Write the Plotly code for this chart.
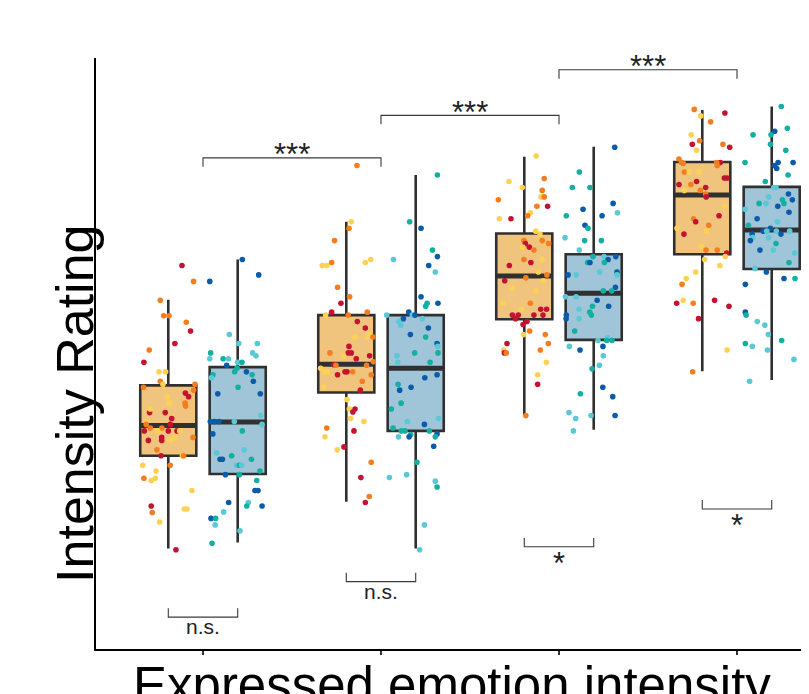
import plotly.graph_objects as go

# ---------------- data (rating scale 0-100) ----------------
groups = [1, 2, 3, 4]

# box statistics: speaker-type A (orange) and B (blue)
orange_lower = [17.0, 24.9, 39.6, 47.0]
orange_q1 = [32.7, 43.4, 55.8, 66.8]
orange_med = [37.8, 48.2, 63.1, 76.8]
orange_q3 = [44.6, 56.5, 70.3, 82.4]
orange_upper = [59.1, 72.3, 83.3, 91.2]

blue_lower = [18.0, 17.0, 37.1, 45.5]
blue_q1 = [29.6, 36.9, 52.3, 64.3]
blue_med = [38.4, 47.5, 60.2, 70.9]
blue_q3 = [47.7, 56.5, 66.8, 78.2]
blue_upper = [65.9, 80.2, 85.0, 91.8]

# individual ratings (y), horizontal jitter (in category units) and subgroup code
o1_y = [64.9, 62.2, 59.0, 56.4, 56.4, 55.3, 53.8, 51.7, 50.6, 48.5,
        46.9, 46.9, 45.3, 44.8, 44.3, 44.8, 43.8, 43.3, 42.7, 42.7,
        41.6, 41.6, 41.1, 40.0, 40.0, 40.6, 39.0, 38.5, 38.0, 38.0,
        37.4, 37.4, 36.9, 36.9, 36.9, 36.9, 36.9, 35.8, 35.3, 35.3,
        35.3, 35.8, 35.8, 33.7, 32.7, 32.7, 32.7, 31.1, 31.1, 30.1,
        28.9, 28.9, 28.5, 26.8, 24.2, 23.1, 23.7, 23.7, 21.5, 16.8]
o1_j = [0.077, 0.142, -0.045, -0.026, 0.004, 0.101, 0.125, 0.037, -0.107, -0.137,
        -0.052, -0.015, -0.045, -0.030, -0.139, 0.150, 0.142, 0.096, 0.114, -0.004,
        0.007, 0.094, 0.097, -0.105, -0.017, -0.101, 0.019, -0.124, -0.124, 0.011,
        -0.036, -0.101, -0.135, -0.060, 0.000, 0.049, 0.064, -0.037, -0.037, -0.112,
        0.011, 0.037, 0.139, -0.064, -0.041, 0.079, 0.086, -0.144, 0.011, -0.069,
        -0.137, -0.073, -0.096, 0.133, -0.096, -0.090, 0.090, 0.105, -0.049, 0.043]
o1_c = "ROOOOORROR" "YYOYOOORRY" "YOORRYRYOR" "OORYRRYRRR" "YYOORYOYOY" "OYYYROYYYR"

b1_y = [65.9, 63.3, 62.2, 53.2, 51.7, 51.7, 50.1, 50.1, 49.6, 49.1,
        49.1, 49.1, 48.5, 48.5, 48.0, 47.5, 46.9, 46.9, 46.4, 46.4,
        45.9, 45.3, 44.3, 43.2, 43.2, 39.5, 38.5, 38.5, 38.5, 38.5,
        38.0, 36.4, 36.9, 33.2, 33.7, 32.7, 32.1, 32.1, 32.1, 31.1,
        31.1, 31.1, 30.1, 29.5, 29.5, 28.5, 26.8, 26.8, 24.8, 24.8,
        24.2, 24.2, 23.2, 22.1, 22.1, 21.0, 20.0, 17.9]
b1_j = [0.026, 0.118, -0.157, -0.047, 0.006, 0.110, -0.152, 0.084, 0.103, -0.157,
        -0.082, -0.052, 0.000, 0.024, -0.062, -0.004, -0.017, 0.049, 0.081, -0.139,
        -0.148, 0.088, 0.002, -0.112, 0.127, 0.129, -0.154, -0.131, -0.105, -0.019,
        0.137, -0.140, 0.026, -0.118, 0.036, -0.034, -0.099, -0.086, 0.077, -0.007,
        0.009, 0.022, 0.125, -0.069, 0.009, 0.107, 0.097, 0.114, -0.051, 0.060,
        0.051, 0.137, -0.079, -0.150, -0.124, -0.127, 0.013, -0.144]
b1_c = "BBBCCCTCCC" "TCCTBTTBTT" "CBTBBCBBBC" "CBTCCTBBTC" "TCTBTTBBBC" "TBCBTCCT"

o2_y = [81.8, 72.3, 71.2, 69.1, 64.9, 64.9, 65.4, 65.4, 65.9, 61.2,
        59.6, 58.5, 57.0, 56.5, 56.5, 57.0, 55.4, 54.3, 53.2, 52.8,
        52.8, 52.8, 51.2, 50.1, 50.1, 50.1, 49.6, 49.1, 49.6, 48.6,
        48.1, 48.0, 47.5, 46.9, 46.9, 46.9, 46.9, 46.9, 48.0, 46.4,
        46.4, 45.3, 44.3, 43.8, 42.2, 40.6, 40.6, 40.1, 39.0, 38.5,
        36.9, 37.4, 35.9, 34.2, 33.7, 31.6, 29.0, 25.8, 24.8]
o2_j = [0.060, 0.028, 0.015, -0.066, -0.135, -0.109, -0.082, 0.107, 0.137, -0.049,
        0.019, -0.030, -0.082, -0.116, 0.011, 0.118, 0.062, 0.107, 0.131, 0.118,
        0.049, 0.150, 0.015, 0.011, 0.028, -0.092, -0.015, 0.056, 0.131, 0.152,
        -0.069, -0.058, -0.144, -0.120, -0.107, -0.007, 0.004, 0.036, 0.114, -0.049,
        0.140, 0.090, -0.127, 0.079, 0.004, 0.049, 0.017, 0.037, 0.024, 0.099,
        0.043, -0.110, -0.120, -0.013, -0.051, 0.140, 0.082, 0.129, 0.107]
o2_c = "OYOOYYOYYO" "ORRYOORRYY" "YORRROYRRO" "ROYYYRROOR" "OOYRYRYRYY" "ROYRYOROR"

b2_y = [80.2, 72.3, 71.2, 67.5, 66.4, 65.9, 64.9, 63.8, 59.6, 58.5,
        58.0, 58.5, 57.0, 56.5, 56.5, 56.5, 55.9, 55.9, 55.4, 54.8,
        54.3, 53.2, 52.8, 51.7, 51.2, 49.6, 50.1, 50.1, 48.5, 48.5,
        45.9, 46.4, 44.8, 44.3, 43.8, 41.6, 40.6, 38.5, 38.0, 39.0,
        37.4, 36.9, 36.9, 36.3, 36.9, 36.4, 35.9, 35.9, 35.9, 34.3,
        31.6, 29.0, 29.5, 28.4, 27.4, 21.0, 16.8]
b2_j = [0.122, -0.034, 0.030, 0.094, 0.122, -0.125, 0.073, 0.110, 0.030, 0.064,
        0.056, 0.125, -0.039, -0.019, -0.004, -0.163, -0.069, 0.037, -0.096, -0.084,
        0.071, -0.030, 0.056, 0.120, 0.124, -0.105, -0.006, 0.125, -0.101, 0.081,
        0.051, 0.120, -0.099, -0.026, -0.090, -0.082, -0.137, -0.047, 0.049, 0.129,
        -0.127, -0.081, -0.060, -0.028, 0.077, 0.120, -0.097, -0.037, 0.110, 0.101,
        0.007, -0.148, -0.051, 0.110, 0.120, 0.049, 0.022]
b2_c = "TTBTBCBCBT" "TBBCBCBCCC" "BBTBCCTTCT" "BBTBBTTCBC" "TTTTTBCBTB" "TCCCTCC"

o3_y = [83.4, 79.1, 79.6, 78.1, 76.0, 77.6, 76.5, 76.5, 74.9, 74.9,
        73.8, 73.3, 72.8, 72.8, 70.7, 70.2, 69.1, 69.1, 68.6, 68.6,
        68.0, 68.0, 67.5, 65.9, 65.4, 65.9, 64.9, 63.8, 63.3, 62.8,
        62.3, 62.3, 61.1, 60.6, 58.5, 58.5, 57.5, 57.5, 57.5, 56.5,
        56.5, 55.9, 56.5, 56.5, 55.4, 54.9, 53.8, 53.2, 53.2, 51.7,
        51.7, 50.6, 50.1, 50.1, 50.6, 48.5, 46.4, 44.8, 39.5]
o3_j = [0.067, -0.086, 0.112, -0.011, -0.146, 0.101, 0.094, 0.112, 0.071, 0.131,
        0.034, 0.019, -0.140, -0.075, 0.064, 0.088, -0.002, 0.101, 0.137, 0.006,
        0.028, -0.009, 0.054, -0.002, 0.037, 0.101, -0.084, 0.079, 0.127, 0.009,
        -0.110, 0.107, -0.067, 0.066, -0.120, 0.034, -0.015, 0.092, 0.125, -0.067,
        -0.034, -0.049, 0.054, 0.105, 0.015, -0.007, 0.030, -0.004, 0.118, 0.135,
        -0.097, -0.116, -0.112, -0.101, 0.090, 0.124, 0.075, 0.075, 0.009]
o3_c = "YYOYOOYOOR" "YOYRYYOOOR" "RYOORYRYOO" "RYYYYOYRRR" "RRRRRROYOO" "RYROOYYRO"

b3_y = [84.9, 80.7, 78.1, 78.1, 75.4, 73.8, 74.4, 73.3, 73.3, 71.7,
        71.2, 69.6, 69.1, 69.1, 67.5, 66.4, 66.4, 66.4, 65.9, 65.4,
        65.4, 65.4, 63.3, 63.3, 63.8, 63.8, 63.3, 61.2, 60.6, 60.6,
        59.6, 59.6, 59.0, 58.0, 58.0, 57.5, 57.0, 56.5, 56.5, 55.9,
        55.9, 53.8, 52.2, 52.7, 52.2, 52.2, 51.2, 50.6, 51.2, 49.6,
        48.0, 47.4, 44.3, 42.7, 43.2, 40.0, 39.0, 39.5, 39.5, 36.9]
b3_j = [0.118, -0.081, -0.120, -0.021, 0.109, 0.133, -0.060, -0.154, 0.047, -0.049,
        -0.032, -0.161, -0.051, 0.043, -0.081, -0.004, 0.058, 0.124, 0.081, -0.034,
        -0.021, 0.060, -0.144, -0.099, 0.034, 0.131, 0.131, 0.122, 0.054, 0.101,
        -0.159, -0.099, 0.019, -0.007, 0.084, -0.082, -0.022, -0.013, -0.154, -0.155,
        -0.082, -0.107, 0.024, 0.077, 0.073, 0.103, -0.137, -0.077, 0.052, 0.054,
        0.032, -0.009, 0.051, 0.107, -0.075, -0.139, -0.101, -0.015, 0.120, -0.114]
b3_c = "BTTTBCBTBB" "TCTTCTCBBT" "BTBCCBCBTT" "CCBTBCTTBB" "CTCCTTCBBC" "CTBBTCCCBC"

o4_y = [91.3, 90.7, 90.2, 89.2, 87.0, 86.0, 85.4, 85.4, 84.9, 84.4,
        82.9, 82.3, 82.2, 82.3, 82.3, 81.8, 80.7, 80.7, 80.7, 79.7,
        79.7, 79.1, 78.6, 78.6, 78.1, 77.6, 77.6, 77.0, 76.5, 74.9,
        73.3, 72.8, 72.3, 71.7, 71.2, 70.7, 70.2, 68.1, 67.5, 67.5,
        67.0, 66.4, 65.9, 64.9, 63.8, 62.7, 61.7, 59.0, 58.5, 58.5,
        59.0, 58.0, 55.9, 50.6, 46.9]
o4_j = [-0.045, 0.127, -0.009, 0.047, -0.062, -0.015, -0.056, 0.116, 0.154, -0.032,
        -0.131, -0.116, -0.107, 0.101, 0.081, 0.084, -0.101, -0.073, -0.017, 0.124,
        0.139, -0.032, -0.131, -0.064, 0.019, -0.011, -0.101, 0.019, 0.022, 0.125,
        0.094, -0.049, -0.037, 0.036, -0.142, 0.024, -0.103, -0.006, 0.021, 0.084,
        0.137, 0.129, 0.013, 0.099, -0.037, -0.090, -0.114, -0.107, -0.144, -0.051,
        0.069, 0.150, -0.021, 0.139, -0.054]
o4_c = "ORYOYORORY" "OOOROOOYYR" "RRROROYORY" "ROROYYRYOO" "RYYYYYOYRO" "RRRYO"

b4_y = [91.8, 88.1, 87.6, 87.0, 87.0, 85.4, 84.4, 82.3, 82.3, 82.3,
        81.8, 81.3, 80.2, 79.1, 78.1, 78.1, 77.0, 76.5, 76.0, 76.0,
        75.4, 75.4, 75.4, 74.9, 74.4, 73.9, 72.8, 72.3, 71.7, 70.7,
        71.2, 70.7, 70.7, 70.7, 70.2, 70.2, 69.6, 69.1, 69.6, 68.6,
        67.5, 67.5, 67.0, 65.4, 64.4, 63.8, 62.7, 62.7, 61.7, 57.0,
        56.5, 55.4, 54.8, 53.2, 52.2, 51.7, 51.2, 50.6, 49.0, 45.3]
b4_j = [0.054, 0.088, 0.017, -0.105, -0.004, -0.007, 0.079, -0.150, 0.036, 0.120,
        0.017, 0.028, 0.092, -0.036, 0.011, 0.024, 0.094, -0.017, 0.116, 0.060,
        0.069, -0.071, -0.032, 0.034, -0.150, 0.097, -0.082, 0.032, -0.131, -0.047,
        -0.007, -0.028, 0.026, 0.101, 0.052, -0.110, -0.107, -0.120, -0.017, 0.024,
        -0.066, 0.009, 0.129, 0.097, -0.094, -0.030, 0.069, 0.131, -0.148, -0.148,
        -0.144, -0.081, -0.039, -0.019, 0.056, -0.148, -0.109, -0.024, 0.125, -0.124]
b4_c = "TTBTTTTTBB" "BBTTCCBCBT" "TTCBCBBCTB" "BCCCBBCBCT" "BCCTCBBTBB" "TCCCTTCCCC"

# significance annotations
between_pairs = [(1, 2), (2, 3), (3, 4)]
between_level = [83.1, 90.3, 98.0]
between_label = ["***", "***", "***"]
within_level = [5.4, 11.4, 17.3, 23.7]
within_label = ["n.s.", "n.s.", "*", "*"]

x_title = "Expressed emotion intensity"
y_title = "Intensity Rating"

# ---------------- styling ----------------
OFFSET = 0.195
BOXW = 0.315
EDGE = "#303030"
FILL_O = "#F1C47E"
FILL_B = "#A0C4D8"
PT = {"Y": "#FDD253", "O": "#F47D20", "R": "#C41230",
      "T": "#13B0A2", "C": "#5BC8D6", "B": "#0B5BAB"}
FONT = "Liberation Sans, Arial, Helvetica, sans-serif"

fig = go.Figure()

orange_pts = [(o1_y, o1_j, o1_c), (o2_y, o2_j, o2_c), (o3_y, o3_j, o3_c), (o4_y, o4_j, o4_c)]
blue_pts = [(b1_y, b1_j, b1_c), (b2_y, b2_j, b2_c), (b3_y, b3_j, b3_c), (b4_y, b4_j, b4_c)]

specs = [
    (-OFFSET, FILL_O, orange_lower, orange_q1, orange_med, orange_q3, orange_upper, orange_pts),
    (OFFSET, FILL_B, blue_lower, blue_q1, blue_med, blue_q3, blue_upper, blue_pts),
]

for off, fill, lo, q1, med, q3, up, pts in specs:
    xs = [g + off for g in groups]
    fig.add_trace(go.Box(
        x=xs, q1=q1, median=med, q3=q3, lowerfence=lo, upperfence=up,
        width=BOXW, fillcolor=fill, line=dict(color=EDGE, width=2.6),
        whiskerwidth=0, boxpoints=False, showlegend=False, hoverinfo="skip"))
    mx, my = [], []
    for x, m in zip(xs, med):
        mx += [x - BOXW / 2, x + BOXW / 2, None]
        my += [m, m, None]
    fig.add_trace(go.Scatter(x=mx, y=my, mode="lines",
                             line=dict(color=EDGE, width=5), showlegend=False,
                             hoverinfo="skip"))

for off, fill, lo, q1, med, q3, up, pts in specs:
    for g, (ys, js, cs) in zip(groups, pts):
        n = min(len(ys), len(js), len(cs))
        fig.add_trace(go.Scatter(
            x=[g + off + j for j in js[:n]], y=ys[:n], mode="markers",
            marker=dict(size=5.6, color=[PT[c] for c in cs[:n]], line=dict(width=0)),
            showlegend=False, hoverinfo="skip"))

# significance brackets
TICK = 1.5
BR = dict(color="#3a3a3a", width=1.1)
for (a, b), lvl, lab in zip(between_pairs, between_level, between_label):
    fig.add_trace(go.Scatter(x=[a, a, b, b], y=[lvl - TICK, lvl, lvl, lvl - TICK],
                             mode="lines", line=BR, showlegend=False, hoverinfo="skip"))
    fig.add_annotation(x=(a + b) / 2, y=lvl + 0.5, text=lab, showarrow=False,
                       xref="x", yref="y", yanchor="middle",
                       font=dict(family=FONT, size=31, color="#222"))
for g, lvl, lab in zip(groups, within_level, within_label):
    a, b = g - OFFSET, g + OFFSET
    fig.add_trace(go.Scatter(x=[a, a, b, b], y=[lvl + TICK, lvl, lvl, lvl + TICK],
                             mode="lines", line=BR, showlegend=False, hoverinfo="skip"))
    star = lab.startswith("*")
    fig.add_annotation(x=g, y=lvl - (2.8 if star else 1.6), text=lab, showarrow=False,
                       xref="x", yref="y", yanchor="middle",
                       font=dict(family=FONT, size=31 if star else 21, color="#222"))

# axis titles
fig.add_annotation(x=0.4986, y=-0.0623, xref="paper", yref="paper", text=x_title,
                   showarrow=False, yanchor="middle", xanchor="center",
                   font=dict(family=FONT, size=51, color="black"))
fig.add_annotation(x=-0.0295, y=0.4146, xref="paper", yref="paper", text=y_title,
                   showarrow=False, textangle=-90, xanchor="center", yanchor="middle",
                   font=dict(family=FONT, size=52, color="black"))

# the page adds an 8px body margin, so the figure is sized to fit the window
fig.update_layout(
    width=801, height=686,
    margin=dict(l=88, r=0, t=50, b=45),
    paper_bgcolor="white", plot_bgcolor="white",
    showlegend=False, hovermode=False,
    font=dict(family=FONT),
    xaxis=dict(range=[0.3989, 4.4045], showgrid=False, zeroline=False,
               showline=True, linecolor="black", linewidth=2,
               tickmode="array", tickvals=groups, ticks="outside", ticklen=4,
               tickwidth=2, tickcolor="#333", showticklabels=False),
    yaxis=dict(range=[0, 100], showgrid=False, zeroline=False,
               showline=True, linecolor="black", linewidth=2,
               ticks="", showticklabels=False),
)

fig.write_html("out.html")
